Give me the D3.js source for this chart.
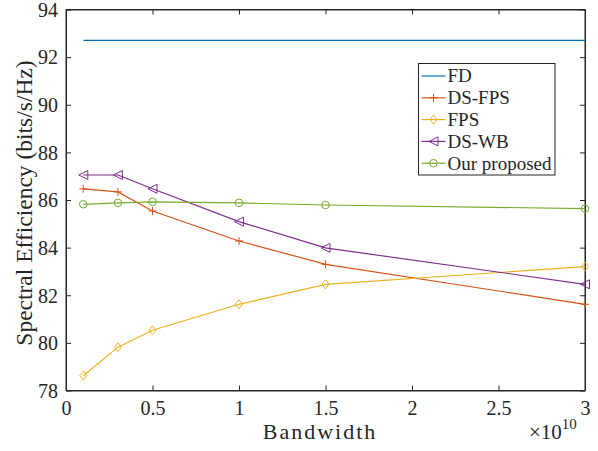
<!DOCTYPE html>
<html>
<head>
<meta charset="utf-8">
<script src="https://cdn.jsdelivr.net/npm/d3@7"></script>
<style>
  html, body { margin: 0; padding: 0; background: #fff; }
  svg { display: block; }
</style>
</head>
<body>
<div id="chart"></div>
<script>
// Bandwidth sample points (in units of 1e10 Hz)
const bandwidth = [0.1, 0.3, 0.5, 1, 1.5, 3];

// Spectral efficiency (bits/s/Hz) for each scheme
const fdValues       = [92.7, 92.7, 92.7, 92.7, 92.7, 92.7];
const dsFpsValues    = [86.47, 86.34, 85.54, 84.28, 83.30, 81.62];
const fpsValues      = [78.62, 79.82, 80.53, 81.62, 82.46, 83.20];
const dsWbValues     = [87.05, 87.05, 86.47, 85.09, 83.99, 82.46];
const proposedValues = [85.82, 85.88, 85.92, 85.88, 85.79, 85.64];

const seriesNames = ["FD", "DS-FPS", "FPS", "DS-WB", "Our proposed"];
const seriesColors = ["#0072BD", "#D95319", "#EDB120", "#7E2F8E", "#77AC30"];
const seriesMarkers = ["none", "plus", "diamond", "triangleLeft", "circle"];

const xTicks = [0, 0.5, 1, 1.5, 2, 2.5, 3];
const xTickLabels = ["0", "0.5", "1", "1.5", "2", "2.5", "3"];
const yTicks = [78, 80, 82, 84, 86, 88, 90, 92, 94];

const series = [fdValues, dsFpsValues, fpsValues, dsWbValues, proposedValues].map((vals, i) => ({
  name: seriesNames[i],
  color: seriesColors[i],
  marker: seriesMarkers[i],
  points: vals.map((v, j) => ({ x: bandwidth[j], y: v }))
}));

const FONT = '"Liberation Serif", "Times New Roman", "DejaVu Serif", serif';
const W = 598, H = 451;
const margin = { left: 66, right: 13, top: 9.5, bottom: 60.5 };
const iw = W - margin.left - margin.right;
const ih = H - margin.top - margin.bottom;

const svg = d3.select("#chart").append("svg").attr("width", W).attr("height", H)
  .style("font-family", FONT);
const g = svg.append("g").attr("transform", `translate(${margin.left},${margin.top})`);

const x = d3.scaleLinear().domain([0, 3]).range([0, iw]);
const y = d3.scaleLinear().domain([78, 94]).range([ih, 0]);

const axisColor = "#262626";
const tickLen = 5;

// Bottom axis with inward ticks
const xAxis = g.append("g").attr("transform", `translate(0,${ih})`)
  .call(d3.axisBottom(x).tickValues(xTicks).tickSizeInner(-tickLen).tickSizeOuter(0)
    .tickFormat((d, i) => xTickLabels[i]));
xAxis.selectAll("text").attr("y", 24).attr("dy", null);
// Left axis with inward ticks
const yAxis = g.append("g")
  .call(d3.axisLeft(y).tickValues(yTicks).tickSizeInner(-tickLen).tickSizeOuter(0));
yAxis.selectAll("text").attr("x", -8).attr("dy", "0.34em");
// Top and right mirror ticks
g.append("g").call(d3.axisTop(x).tickValues(xTicks).tickSizeInner(-tickLen).tickSizeOuter(0).tickFormat(""));
g.append("g").attr("transform", `translate(${iw},0)`)
  .call(d3.axisRight(y).tickValues(yTicks).tickSizeInner(-tickLen).tickSizeOuter(0).tickFormat(""));

g.selectAll(".tick text")
  .style("font-family", FONT).style("font-size", "20px").attr("fill", axisColor);
svg.selectAll(".domain").attr("stroke", axisColor).attr("stroke-width", 1);
svg.selectAll(".tick line").attr("stroke", axisColor);

// Plot box
g.append("rect").attr("width", iw).attr("height", ih)
  .attr("fill", "none").attr("stroke", axisColor).attr("stroke-width", 1);

// Axis titles
svg.append("text").attr("x", 320).attr("y", 438.5)
  .attr("text-anchor", "middle").style("font-size", "22px").style("letter-spacing", "2px")
  .attr("fill", axisColor).text("Bandwidth");
svg.append("text")
  .attr("transform", "translate(32,203) rotate(-90)")
  .attr("text-anchor", "middle").style("font-size", "23.5px").attr("fill", axisColor)
  .text("Spectral Efficiency (bits/s/Hz)");
// Exponent label
const expText = svg.append("text").attr("x", 529).attr("y", 439)
  .style("font-size", "21px").attr("fill", axisColor);
expText.append("tspan").text("\u00d710");
expText.append("tspan").attr("dy", -10).style("font-size", "15px").text("10");

// Marker drawing
function drawMarker(sel, type, color) {
  const s = 4;
  if (type === "plus") {
    sel.append("path").attr("d", `M${-s},0H${s}M0,${-s}V${s}`)
      .attr("stroke", color).attr("stroke-width", 1).attr("fill", "none");
  } else if (type === "diamond") {
    const d = 4.5;
    sel.append("path").attr("d", `M0,${-d}L${d * 0.8},0L0,${d}L${-d * 0.8},0Z`)
      .attr("stroke", color).attr("stroke-width", 1).attr("fill", "none");
  } else if (type === "triangleLeft") {
    const t = 4.5;
    sel.append("path").attr("d", `M${-t},0L${t},${-t}L${t},${t}Z`)
      .attr("stroke", color).attr("stroke-width", 1).attr("fill", "none");
  } else if (type === "circle") {
    sel.append("circle").attr("r", 3.8)
      .attr("stroke", color).attr("stroke-width", 1).attr("fill", "none");
  }
}

const line = d3.line().x(d => x(d.x)).y(d => y(d.y));

series.forEach(s => {
  g.append("path").datum(s.points).attr("d", line)
    .attr("fill", "none").attr("stroke", s.color).attr("stroke-width", 1.2);
  if (s.marker !== "none") {
    s.points.forEach(p => {
      const m = g.append("g").attr("transform", `translate(${x(p.x)},${y(p.y)})`);
      drawMarker(m, s.marker, s.color);
    });
  }
});

// Legend
const legend = svg.append("g").attr("transform", "translate(418.5,63.5)");
legend.append("rect").attr("width", 136.5).attr("height", 111.5)
  .attr("fill", "#fff").attr("stroke", axisColor).attr("stroke-width", 1);
series.forEach((s, i) => {
  const ly = 12.5 + i * 21.8;
  const row = legend.append("g").attr("transform", `translate(0,${ly})`);
  row.append("line").attr("x1", 3).attr("x2", 27).attr("y1", 0).attr("y2", 0)
    .attr("stroke", s.color).attr("stroke-width", 1.2);
  if (s.marker !== "none") {
    const m = row.append("g").attr("transform", "translate(15,0)");
    drawMarker(m, s.marker, s.color);
  }
  row.append("text").attr("x", 29).attr("y", 0).attr("dy", "0.34em")
    .style("font-size", "19px").attr("fill", axisColor).text(s.name);
});
</script>
</body>
</html>
